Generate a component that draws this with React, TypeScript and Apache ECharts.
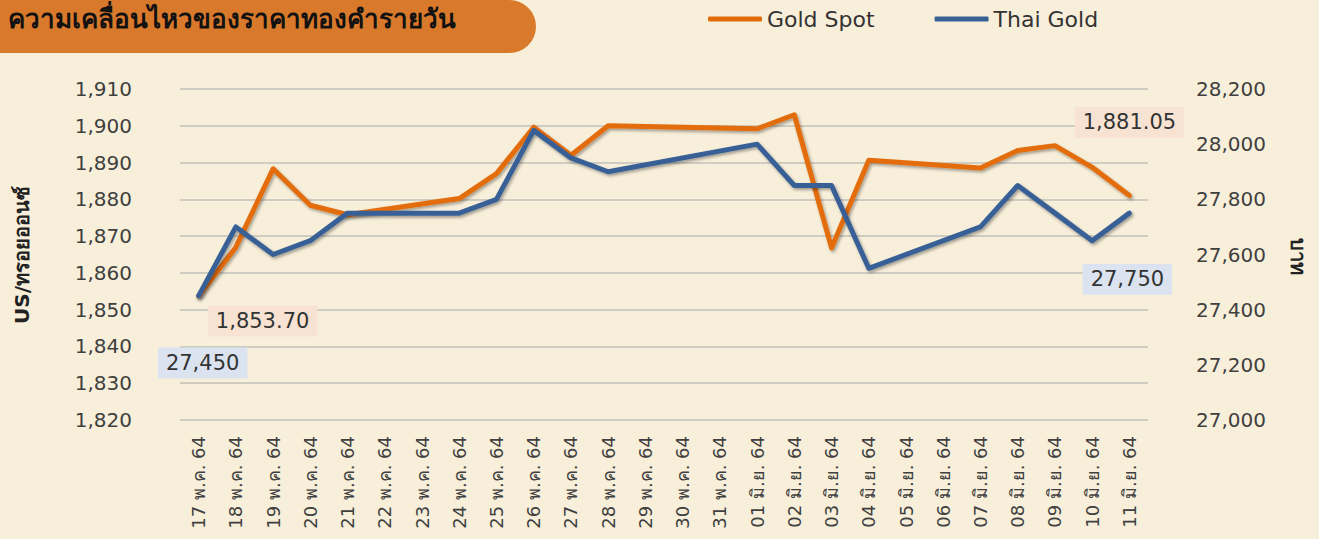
import React, { useEffect, useRef } from "react";
import * as echarts from "echarts";

const categories = [
  "17 พ.ค. 64", "18 พ.ค. 64", "19 พ.ค. 64", "20 พ.ค. 64", "21 พ.ค. 64", "22 พ.ค. 64",
  "23 พ.ค. 64", "24 พ.ค. 64", "25 พ.ค. 64", "26 พ.ค. 64", "27 พ.ค. 64", "28 พ.ค. 64",
  "29 พ.ค. 64", "30 พ.ค. 64", "31 พ.ค. 64", "01 มิ.ย. 64", "02 มิ.ย. 64", "03 มิ.ย. 64",
  "04 มิ.ย. 64", "05 มิ.ย. 64", "06 มิ.ย. 64", "07 มิ.ย. 64", "08 มิ.ย. 64", "09 มิ.ย. 64",
  "10 มิ.ย. 64", "11 มิ.ย. 64",
];

const goldSpot: (number | null)[] = [
  1853.7, 1867.0, 1888.3, 1878.4, 1875.8, null, null, 1880.2, 1887.0, 1899.6, 1892.0, 1900.0,
  null, null, null, 1899.2, 1903.0, 1866.8, 1890.6, null, null, 1888.5, 1893.3, 1894.6,
  1888.7, 1881.05,
];

const thaiGold: (number | null)[] = [
  27450, 27700, 27600, 27650, 27750, null, null, 27750, 27800, 28050, 27950, 27900,
  null, null, null, 28000, 27850, 27850, 27550, null, null, 27700, 27850, 27750,
  27650, 27750,
];

const title = "ความเคลื่อนไหวของราคาทองคำรายวัน";
const seriesNames = ["Gold Spot", "Thai Gold"];
const leftAxisName = "US/ทรอยออนซ์";
const rightAxisName = "บาท";

const FONT = "'DejaVu Sans', 'Noto Sans', sans-serif";
const BG = "#F8EFDA";
const ORANGE = "#E36C0A";
const BLUE = "#376196";

const fmt = (v: number, d: number) =>
  v.toLocaleString("en-US", { minimumFractionDigits: d, maximumFractionDigits: d });

function labelled(
  arr: (number | null)[],
  marks: { idx: number; offset: [number, number] }[],
  bg: string,
  decimals: number
) {
  return arr.map((v, i) => {
    const m = marks.find((k) => k.idx === i);
    if (!m || v === null) return v;
    return {
      value: v,
      label: {
        show: true,
        position: "inside",
        offset: m.offset,
        backgroundColor: bg,
        padding: [6, 8, 4, 8],
        fontSize: 21,
        fontFamily: FONT,
        color: "#333333",
        formatter: () => fmt(v, decimals),
      },
    };
  });
}

export default function App() {
  const ref = useRef<HTMLDivElement>(null);
  useEffect(() => {
    if (!ref.current) return;
    const chart = echarts.init(ref.current, undefined, { renderer: "svg" });
    const last = goldSpot.length - 1;
    const gData = labelled(
      goldSpot,
      [
        { idx: 0, offset: [64, 25] },
        { idx: last, offset: [0, -73] },
      ],
      "#F8E3D3",
      2
    );
    const tData = labelled(
      thaiGold,
      [
        { idx: 0, offset: [4, 67] },
        { idx: last, offset: [-2, 66] },
      ],
      "#DAE3EF",
      0
    );

    const lineShadow = {
      shadowColor: "rgba(0,0,0,0.35)",
      shadowBlur: 3,
      shadowOffsetX: 1.5,
      shadowOffsetY: 2,
    };

    chart.setOption({
      animation: false,
      backgroundColor: BG,
      textStyle: { fontFamily: FONT },
      grid: { left: 180, right: 171, top: 89, bottom: 119, containLabel: false },
      legend: {
        left: 708,
        top: 8,
        padding: 0,
        itemWidth: 54,
        itemHeight: 5,
        itemGap: 60,
        icon: "roundRect",
        data: seriesNames,
        textStyle: { fontSize: 22, color: "#333333", fontFamily: FONT },
        itemStyle: { shadowBlur: 0, shadowOffsetX: 0, shadowOffsetY: 0 },
      },
      xAxis: {
        type: "category",
        data: categories,
        boundaryGap: true,
        axisLine: { show: false },
        axisTick: { show: false },
        axisLabel: {
          rotate: 90,
          interval: 0,
          margin: 16,
          fontSize: 18,
          color: "#404040",
          fontFamily: FONT,
        },
      },
      yAxis: [
        {
          type: "value",
          min: 1820,
          max: 1910,
          interval: 10,
          axisLine: { show: false },
          axisTick: { show: false },
          splitLine: { lineStyle: { color: "#C2C0BA", width: 1.5 } },
          axisLabel: {
            margin: 48,
            fontSize: 20,
            color: "#404040",
            fontFamily: FONT,
            formatter: (v: number) => fmt(v, 0),
          },
        },
        {
          type: "value",
          min: 27000,
          max: 28200,
          interval: 200,
          axisLine: { show: false },
          axisTick: { show: false },
          splitLine: { show: false },
          axisLabel: {
            margin: 48,
            fontSize: 20,
            color: "#404040",
            fontFamily: FONT,
            formatter: (v: number) => fmt(v, 0),
          },
        },
      ],
      series: [
        {
          name: seriesNames[0],
          type: "line",
          yAxisIndex: 0,
          data: gData,
          connectNulls: true,
          symbol: "circle",
          symbolSize: 0,
          showSymbol: true,
          itemStyle: { color: ORANGE },
          lineStyle: { color: ORANGE, width: 5, cap: "round", join: "round", ...lineShadow },
          z: 2,
        },
        {
          name: seriesNames[1],
          type: "line",
          yAxisIndex: 1,
          data: tData,
          connectNulls: true,
          symbol: "circle",
          symbolSize: 0,
          showSymbol: true,
          itemStyle: { color: BLUE },
          lineStyle: { color: BLUE, width: 5, cap: "round", join: "round", ...lineShadow },
          z: 3,
        },
      ],
      graphic: [
        {
          type: "rect",
          left: 0,
          top: 0,
          shape: { width: 536, height: 53, r: [0, 27, 27, 0] },
          style: { fill: "#D9792B" },
          z: 10,
        },
        {
          type: "text",
          left: 8,
          top: 6,
          style: {
            text: title,
            fontSize: 26,
            fontWeight: "bold",
            fill: "#111111",
            fontFamily: FONT,
          },
          z: 11,
        },
        {
          type: "text",
          x: 22,
          y: 255,
          rotation: Math.PI / 2,
          style: {
            text: leftAxisName,
            fontSize: 20,
            fontWeight: "bold",
            fill: "#222222",
            fontFamily: FONT,
            align: "center",
            verticalAlign: "middle",
          },
        },
        {
          type: "text",
          x: 1298,
          y: 256,
          rotation: -Math.PI / 2,
          style: {
            text: rightAxisName,
            fontSize: 20,
            fontWeight: "bold",
            fill: "#222222",
            fontFamily: FONT,
            align: "center",
            verticalAlign: "middle",
          },
        },
      ],
    });
    return () => chart.dispose();
  }, []);
  return (
    <div
      ref={ref}
      style={{ position: "fixed", left: 0, top: 0, width: 1319, height: 539, background: BG }}
    />
  );
}
